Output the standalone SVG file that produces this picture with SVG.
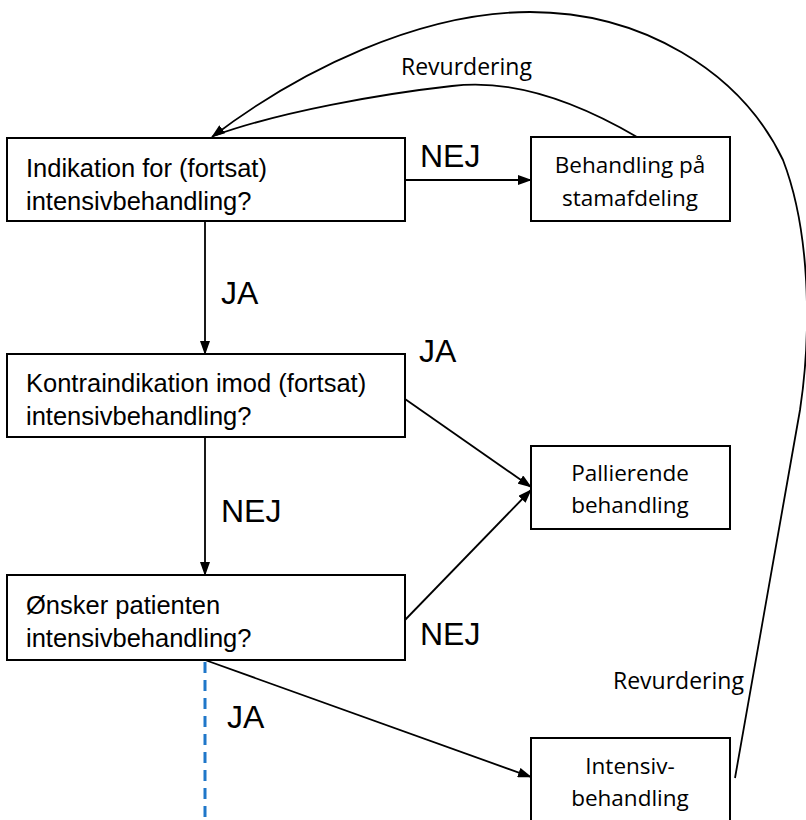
<svg xmlns="http://www.w3.org/2000/svg" width="806" height="820" viewBox="0 0 806 820">
<defs>
<marker id="ah" markerWidth="14" markerHeight="10" refX="13" refY="5" orient="auto" markerUnits="userSpaceOnUse">
<path d="M0,0 L14,5 L0,10 Z" fill="#000"/>
</marker>
<style>
.box{fill:#fff;stroke:#000;stroke-width:2}
.q{font-family:"Liberation Sans",Arial,sans-serif;font-size:25.5px;fill:#000}
.r{font-family:"Open Sans","Liberation Sans",sans-serif;font-size:22.5px;fill:#000;text-anchor:middle}
.big{font-family:"Liberation Sans",Arial,sans-serif;font-size:32px;fill:#000}
.lbl{font-family:"Open Sans","Liberation Sans",sans-serif;font-size:23px;fill:#000}
.c{fill:none;stroke:#000;stroke-width:1.8}
</style>
</defs>
<rect width="806" height="820" fill="#fff"/>
<g id="connectors">
<path class="c" d="M735,778 L800,410 C812,330 810,230 783,160 C740,70 640,12 530,12 C420,12 300,70 212,137" marker-end="url(#ah)"/>
<path class="c" d="M637,137 C560,92 500,80 452,86 C380,94 280,112 216,135"/>
<line class="c" x1="405" y1="180" x2="531" y2="180" marker-end="url(#ah)"/>
<line class="c" x1="205" y1="221" x2="205" y2="354" marker-end="url(#ah)"/>
<line class="c" x1="405" y1="399" x2="531" y2="487" marker-end="url(#ah)"/>
<line class="c" x1="405" y1="620" x2="531" y2="490" marker-end="url(#ah)"/>
<line class="c" x1="205" y1="437" x2="205" y2="575" marker-end="url(#ah)"/>
<line class="c" x1="205" y1="660" x2="531" y2="777" marker-end="url(#ah)"/>
<line x1="205" y1="662" x2="205" y2="820" stroke="#1f77c9" stroke-width="3" stroke-dasharray="11,7"/>
<text class="big" x="420" y="167">NEJ</text>
<text class="big" x="221" y="304">JA</text>
<text class="big" x="419" y="362">JA</text>
<text class="big" x="221" y="522">NEJ</text>
<text class="big" x="420" y="645">NEJ</text>
<text class="big" x="227" y="728">JA</text>
<text class="lbl" x="401" y="75">Revurdering</text>
<text class="lbl" x="613" y="689">Revurdering</text>
</g>
<g id="n1">
<rect class="box" x="7" y="138" width="398" height="83"/>
<text class="q" x="26" y="177">Indikation for (fortsat)</text>
<text class="q" x="26" y="210">intensivbehandling?</text>
</g>
<g id="n2">
<rect class="box" x="531" y="137" width="199" height="84"/>
<text class="r" x="630" y="173">Behandling på</text>
<text class="r" x="630" y="206">stamafdeling</text>
</g>
<g id="n3">
<rect class="box" x="7" y="354" width="398" height="83"/>
<text class="q" x="26" y="392">Kontraindikation imod (fortsat)</text>
<text class="q" x="26" y="425">intensivbehandling?</text>
</g>
<g id="n4">
<rect class="box" x="531" y="446" width="199" height="83"/>
<text class="r" x="630" y="481">Pallierende</text>
<text class="r" x="630" y="513">behandling</text>
</g>
<g id="n5">
<rect class="box" x="7" y="575" width="398" height="85"/>
<text class="q" x="26" y="614">Ønsker patienten</text>
<text class="q" x="26" y="647">intensivbehandling?</text>
</g>
<g id="n6">
<rect class="box" x="531" y="738" width="199" height="90"/>
<text class="r" x="630" y="774">Intensiv-</text>
<text class="r" x="630" y="806">behandling</text>
</g>
</svg>
